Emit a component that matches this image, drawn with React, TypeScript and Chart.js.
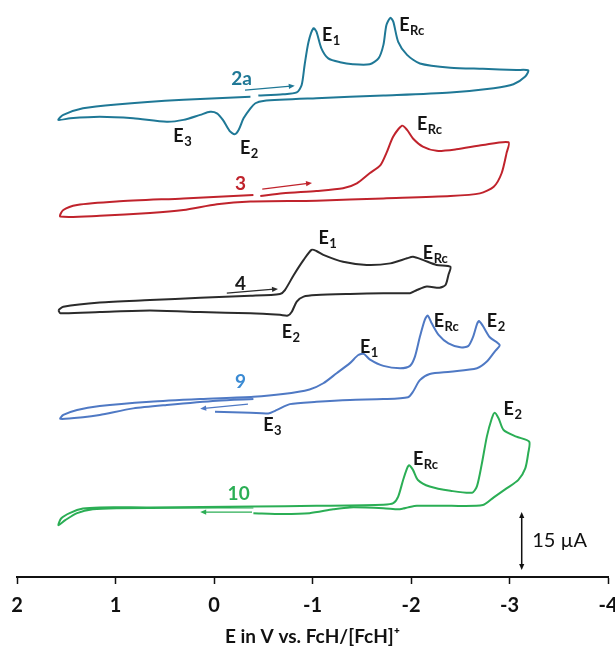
import React, { useEffect, useRef } from "react";
import { Chart, registerables } from "chart.js";

Chart.register(...registerables);

// ---------- axis ----------
const xMin = -4;
const xMax = 2;
const xTickValues = [2, 1, 0, -1, -2, -3, -4];
const xAxisTitle = "E in V vs. FcH/[FcH]\u207A";
const yMin = 0;
const yMax = 149.2; // µA (stacked, offset currents)

// ---------- scale bar ----------
const scaleBarValue = 15; // µA
const scaleBarLabel = "15 \u00B5A";

// ---------- series (E in V, stacked current in µA) ----------
const e2a = [-0.45, -0.70, -0.84, -0.89, -0.92, -0.96, -1.01, -1.04, -1.09, -1.16, -1.28, -1.41, -1.58, -1.67, -1.72, -1.75, -1.79, -1.82, -1.87, -1.96, -2.09, -2.40, -2.73, -3.07, -3.19, -3.16, -3.04, -2.84, -2.40, -1.72, -1.04, -0.50, -0.42, -0.37, -0.30, -0.25, -0.21, -0.16, -0.09, -0.03, 0.04, 0.14, 0.31, 0.48, 0.82, 1.16, 1.46, 1.58, 1.53, 1.33, 0.99, 0.31, -0.37];
const i2a = [124.5, 124.8, 125.3, 127.2, 132.4, 138.4, 141.9, 141.0, 136.7, 134.1, 133.1, 132.6, 132.6, 134.1, 137.6, 142.7, 144.6, 143.6, 138.4, 135.0, 132.8, 131.7, 131.4, 131.1, 131.0, 129.4, 127.4, 126.4, 125.3, 124.5, 123.8, 123.1, 122.5, 121.2, 118.6, 115.6, 114.5, 115.3, 118.2, 119.9, 120.3, 119.5, 118.2, 117.7, 118.6, 119.0, 118.6, 118.2, 119.5, 121.2, 122.2, 123.4, 124.2];

const e3 = [-0.47, -0.70, -1.04, -1.31, -1.45, -1.58, -1.69, -1.75, -1.82, -1.91, -1.96, -2.02, -2.12, -2.26, -2.46, -2.73, -2.99, -2.97, -2.92, -2.84, -2.70, -2.40, -1.72, -1.04, -0.37, -0.03, 0.31, 0.65, 1.16, 1.56, 1.53, 1.39, 0.99, 0.31, -0.40];
const i3 = [98.5, 99.2, 99.8, 100.5, 101.8, 104.4, 106.5, 109.6, 113.9, 116.7, 115.6, 113.4, 111.3, 110.2, 110.6, 111.7, 112.4, 109.6, 104.4, 100.9, 99.2, 98.5, 97.9, 97.3, 97.1, 96.4, 94.9, 94.1, 93.4, 93.2, 94.9, 96.2, 97.1, 97.9, 98.8];

const e4 = [1.58, 1.53, 1.16, 0.65, 0.14, -0.37, -0.67, -0.72, -0.81, -0.91, -0.99, -1.04, -1.11, -1.31, -1.55, -1.79, -1.96, -2.02, -2.12, -2.26, -2.40, -2.38, -2.35, -2.29, -2.16, -2.06, -1.99, -1.72, -1.38, -1.04, -0.91, -0.84, -0.79, -0.75, -0.67, -0.37, 0.14, 0.65, 1.16, 1.56, 1.58];
const i4 = [69.0, 69.9, 71.0, 71.6, 72.2, 72.7, 73.2, 74.2, 78.1, 82.0, 84.6, 84.3, 83.3, 81.5, 80.7, 81.1, 82.4, 82.8, 82.0, 80.7, 80.2, 78.1, 75.5, 74.8, 75.1, 74.2, 73.4, 73.4, 73.2, 72.9, 72.5, 71.2, 68.6, 67.6, 67.8, 68.2, 68.5, 68.9, 68.5, 68.2, 69.0];

const e9 = [-0.40, -0.03, 0.48, 0.82, 1.16, 1.33, 1.56, 1.53, 1.39, 1.16, 0.65, 0.14, -0.40, -0.70, -0.97, -1.11, -1.245, -1.38, -1.465, -1.52, -1.58, -1.72, -1.89, -1.99, -2.04, -2.09, -2.14, -2.17, -2.21, -2.28, -2.38, -2.50, -2.58, -2.63, -2.67, -2.69, -2.73, -2.80, -2.90, -2.85, -2.77, -2.67, -2.40, -2.19, -2.09, -2.02, -1.97, -1.72, -1.38, -1.04, -0.77, -0.64, -0.55, -0.37, -0.01];
const i9 = [46.0, 45.6, 44.5, 43.6, 41.9, 41.3, 40.9, 41.9, 43.2, 44.2, 45.3, 46.0, 46.6, 47.3, 48.5, 50.1, 52.7, 55.3, 57.4, 57.7, 56.3, 54.6, 54.0, 54.6, 57.0, 62.1, 66.5, 67.6, 65.6, 62.6, 60.4, 59.4, 59.7, 62.1, 65.4, 66.2, 64.9, 62.0, 60.0, 58.3, 55.7, 54.0, 53.1, 52.5, 50.9, 47.9, 46.5, 46.0, 45.8, 45.3, 44.7, 43.2, 42.3, 42.5, 42.7];

const e10 = [-0.40, 0.31, 0.99, 1.23, 1.39, 1.51, 1.58, 1.55, 1.46, 1.33, 1.16, 0.65, -0.40, -1.04, -1.72, -1.82, -1.87, -1.92, -1.96, -1.98, -2.02, -2.07, -2.19, -2.40, -2.62, -2.67, -2.72, -2.77, -2.82, -2.85, -2.89, -2.94, -3.07, -3.20, -3.19, -3.16, -3.09, -2.97, -2.84, -2.73, -2.40, -2.06, -1.97, -1.92, -1.87, -1.72, -1.38, -1.21, -0.97, -0.70, -0.40];
const i10 = [18.0, 17.9, 17.8, 17.5, 16.5, 14.7, 13.4, 15.2, 16.6, 17.7, 18.0, 18.0, 18.2, 18.4, 18.7, 19.1, 20.8, 25.1, 28.1, 28.9, 27.7, 25.1, 23.4, 22.3, 21.8, 23.5, 29.4, 36.3, 41.0, 42.5, 41.0, 38.0, 36.3, 35.0, 32.0, 28.1, 25.1, 22.9, 20.6, 18.6, 18.4, 18.4, 18.0, 17.7, 17.5, 17.8, 18.0, 17.5, 16.5, 16.3, 16.5];

const seriesNames = ["2a", "3", "4", "9", "10"];
const seriesE = [e2a, e3, e4, e9, e10];
const seriesI = [i2a, i3, i4, i9, i10];
const lineColors = ["#1f7896", "#c0232c", "#2b2b2b", "#4f79c4", "#2bae55"];
const nameColors = ["#1f7896", "#c0232c", "#1a1a1a", "#3a8ad3", "#2bae55"];

// compound-name label anchors (E, I)
const nameE = [-0.28, -0.27, -0.27, -0.27, -0.25];
const nameI = [127.2, 100.1, 74.2, 48.9, 19.9];

// scan direction arrows (from -> to, E / I)
const arrowE0 = [-0.315, -0.49, -0.13, -0.345, -0.386];
const arrowI0 = [125.9, 100.3, 73.4, 44.7, 16.8];
const arrowE1 = [-0.82, -0.995, -0.65, 0.14, 0.14];
const arrowI1 = [127.0, 101.9, 74.5, 43.5, 16.8];

// peak labels: subscript, E, I
const peakSub = ["1", "Rc", "3", "2", "Rc", "1", "Rc", "2", "1", "Rc", "2", "3", "Rc", "2"];
const peakE = [-1.096, -1.88, 0.413, -0.264, -2.06, -1.06, -2.12, -0.687, -1.482, -2.23, -2.77, -0.50, -2.02, -2.94];
const peakI = [138.6, 141.2, 112.4, 109.4, 115.6, 86.0, 82.2, 61.7, 57.8, 64.6, 64.6, 37.8, 29.0, 41.9];

// scale bar anchor
const scaleBarE = -3.124;
const scaleBarI0 = 1.8;
const scaleBarTextE = -3.23;

const FONT = "Lato, 'Open Sans', sans-serif";

function arrowHead(ctx: CanvasRenderingContext2D, x0: number, y0: number, x1: number, y1: number, len: number, half: number) {
  const a = Math.atan2(y1 - y0, x1 - x0);
  ctx.beginPath();
  ctx.moveTo(x1, y1);
  ctx.lineTo(x1 - len * Math.cos(a) + half * Math.sin(a), y1 - len * Math.sin(a) - half * Math.cos(a));
  ctx.lineTo(x1 - len * Math.cos(a) - half * Math.sin(a), y1 - len * Math.sin(a) + half * Math.cos(a));
  ctx.closePath();
  ctx.fill();
}

const annotationPlugin = {
  id: "cvAnnotations",
  afterDatasetsDraw(chart: any) {
    const { ctx } = chart;
    const x = chart.scales.x;
    const y = chart.scales.y;
    ctx.save();

    // compound names
    ctx.textAlign = "center";
    ctx.textBaseline = "alphabetic";
    ctx.font = `bold 19px ${FONT}`;
    seriesNames.forEach((n, k) => {
      ctx.fillStyle = nameColors[k];
      ctx.fillText(n, x.getPixelForValue(nameE[k]), y.getPixelForValue(nameI[k]));
    });

    // scan arrows
    seriesNames.forEach((_, k) => {
      const x0 = x.getPixelForValue(arrowE0[k]);
      const y0 = y.getPixelForValue(arrowI0[k]);
      const x1 = x.getPixelForValue(arrowE1[k]);
      const y1 = y.getPixelForValue(arrowI1[k]);
      ctx.strokeStyle = lineColors[k];
      ctx.fillStyle = lineColors[k];
      ctx.lineWidth = 1.3;
      const a = Math.atan2(y1 - y0, x1 - x0);
      ctx.beginPath();
      ctx.moveTo(x0, y0);
      ctx.lineTo(x1 - 4 * Math.cos(a), y1 - 4 * Math.sin(a));
      ctx.stroke();
      arrowHead(ctx, x0, y0, x1, y1, 6, 2.6);
    });

    // peak labels
    ctx.fillStyle = "#151515";
    ctx.textAlign = "left";
    peakSub.forEach((s, k) => {
      const px = x.getPixelForValue(peakE[k]);
      const py = y.getPixelForValue(peakI[k]);
      ctx.font = `bold 18px ${FONT}`;
      ctx.fillText("E", px, py);
      const w = ctx.measureText("E").width;
      ctx.font = `bold 13px ${FONT}`;
      ctx.fillText(s, px + w + 0.5, py + 4);
    });

    // scale bar
    const sx = x.getPixelForValue(scaleBarE);
    const sy0 = y.getPixelForValue(scaleBarI0);
    const sy1 = y.getPixelForValue(scaleBarI0 + scaleBarValue);
    ctx.strokeStyle = "#111";
    ctx.fillStyle = "#111";
    ctx.lineWidth = 1.5;
    ctx.beginPath();
    ctx.moveTo(sx, sy0 - 4);
    ctx.lineTo(sx, sy1 + 4);
    ctx.stroke();
    arrowHead(ctx, sx, sy0 + 10, sx, sy1, 6, 2.6);
    arrowHead(ctx, sx, sy1 - 10, sx, sy0, 6, 2.6);
    ctx.font = `20px ${FONT}`;
    ctx.textBaseline = "middle";
    ctx.textAlign = "left";
    ctx.fillText(scaleBarLabel, x.getPixelForValue(scaleBarTextE), (sy0 + sy1) / 2);

    ctx.restore();
  },
};

export default function App() {
  const canvasRef = useRef<HTMLCanvasElement | null>(null);

  useEffect(() => {
    document.body.style.margin = "0";
    const canvas = canvasRef.current;
    if (!canvas) return;

    const datasets = seriesNames.map((n, k) => ({
      label: n,
      data: seriesE[k].map((e, j) => ({ x: e, y: seriesI[k][j] })),
      showLine: true,
      borderColor: lineColors[k],
      backgroundColor: lineColors[k],
      borderWidth: 2,
      pointRadius: 0,
      tension: 0.25,
      fill: false,
      clip: false as any,
    }));

    const chart = new Chart(canvas, {
      type: "scatter",
      data: { datasets },
      plugins: [annotationPlugin as any],
      options: {
        responsive: false,
        animation: false,
        events: [],
        layout: { padding: { left: 17, right: 7, top: 0, bottom: 0 } },
        plugins: {
          legend: { display: false },
          tooltip: { enabled: false },
        },
        scales: {
          x: {
            type: "linear",
            position: "bottom",
            reverse: true,
            min: xMin,
            max: xMax,
            afterBuildTicks: (scale: any) => {
              scale.ticks = xTickValues.map((v) => ({ value: v }));
            },
            afterFit: (scale: any) => {
              scale.height = 80;
              scale.paddingLeft = 0;
              scale.paddingRight = 0;
            },
            ticks: {
              autoSkip: false,
              maxRotation: 0,
              padding: 10,
              color: "#111",
              font: { family: FONT, size: 20, weight: "bold" },
              callback: (v: any) => String(v),
            },
            grid: {
              display: true,
              drawOnChartArea: false,
              drawTicks: true,
              tickLength: 7,
              tickWidth: 1.5,
              tickColor: "#111",
              color: "#111",
            },
            border: { display: true, color: "#111", width: 2 },
            title: {
              display: true,
              text: xAxisTitle,
              color: "#111",
              font: { family: FONT, size: 19, weight: "bold" },
              padding: { top: 0, bottom: 9 },
            },
          },
          y: {
            type: "linear",
            display: false,
            min: yMin,
            max: yMax,
          },
        },
      },
    });

    return () => chart.destroy();
  }, []);

  return (
    <div style={{ width: 615, height: 657 }}>
      <canvas ref={canvasRef} width={615} height={657} style={{ display: "block" }} />
    </div>
  );
}
